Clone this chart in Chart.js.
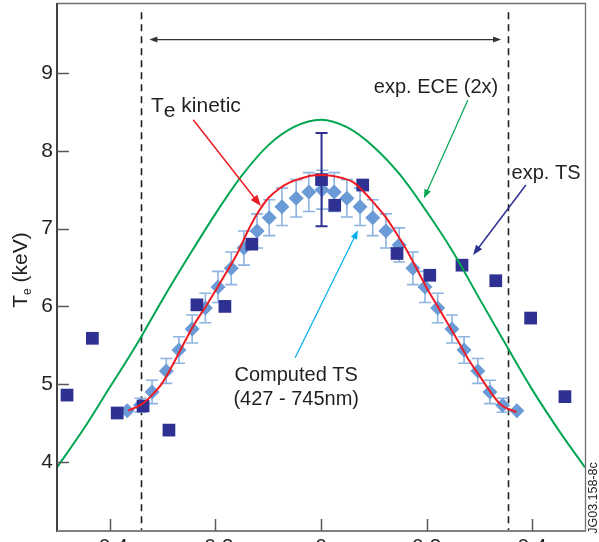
<!DOCTYPE html>
<html>
<head>
<meta charset="utf-8">
<script src="https://cdn.jsdelivr.net/npm/chart.js@4.4.1/dist/chart.umd.min.js"></script>
<style>
  html, body { margin: 0; padding: 0; background: #fff; overflow: hidden; }
  #wrap { width: 599px; height: 560px; position: relative; }
</style>
</head>
<body>
<div id="wrap"><canvas id="chart-te"></canvas></div>
<script>
// radius (normalised) on x, Te in keV on y
var xTicks = [-0.4, -0.2, 0, 0.2, 0.4];
var yTicks = [4, 5, 6, 7, 8, 9];

// computed TS (427 - 745nm), diamonds with error bars
var compX = [-0.367, -0.342, -0.320, -0.293, -0.269, -0.244, -0.219, -0.195, -0.170, -0.146, -0.121,
  -0.098, -0.074, -0.047, -0.023, 0.002, 0.025, 0.049, 0.074, 0.098, 0.123, 0.148, 0.174, 0.197,
  0.221, 0.248, 0.271, 0.297, 0.320, 0.344, 0.371];
var compTe = [4.66, 4.73, 4.90, 5.17, 5.44, 5.71, 5.98, 6.25, 6.49, 6.75, 6.97, 7.14, 7.28, 7.39, 7.47,
  7.50, 7.47, 7.39, 7.28, 7.14, 6.97, 6.79, 6.49, 6.25, 5.98, 5.71, 5.44, 5.17, 4.90, 4.73, 4.66];
var compErr = [0, 0.09, 0.15, 0.16, 0.17, 0.18, 0.19, 0.20, 0.21, 0.22, 0.22, 0.23, 0.24, 0.24, 0.25,
  0.25, 0.25, 0.24, 0.24, 0.23, 0.22, 0.22, 0.21, 0.20, 0.19, 0.18, 0.17, 0.16, 0.15, 0.09, 0];

// exp. TS, squares
var tsX = [-0.481, -0.433, -0.386, -0.337, -0.288, -0.235, -0.182, -0.131, 0.001, 0.026, 0.079,
  0.144, 0.206, 0.267, 0.331, 0.397, 0.462];
var tsTe = [4.86, 5.59, 4.63, 4.72, 4.41, 6.02, 6.00, 6.80, 7.63, 7.30, 7.56, 6.68, 6.40, 6.53, 6.33, 5.85, 4.84];
var tsErr = [0, 0, 0, 0, 0, 0, 0, 0, 0.60, 0, 0, 0, 0, 0, 0, 0, 0];

// exp. ECE (2x), green curve
var eceX = [-0.5, -0.45, -0.4, -0.35, -0.3, -0.25, -0.2, -0.15, -0.1, -0.05, 0, 0.05, 0.1, 0.15, 0.2,
  0.25, 0.3, 0.35, 0.4, 0.45, 0.5];
var eceTe = [3.93, 4.42, 4.96, 5.50, 6.09, 6.65, 7.19, 7.68, 8.07, 8.31, 8.40, 8.30, 8.05, 7.69, 7.22,
  6.70, 6.10, 5.51, 4.93, 4.41, 3.93];

// Te kinetic, red curve
var kinX = [-0.365, -0.34, -0.32, -0.3, -0.28, -0.26, -0.24, -0.22, -0.2, -0.18, -0.16, -0.14, -0.12,
  -0.1, -0.08, -0.06, -0.04, -0.02, 0, 0.02, 0.04, 0.06, 0.08, 0.1, 0.12, 0.14, 0.16, 0.18, 0.2, 0.22,
  0.24, 0.26, 0.28, 0.3, 0.32, 0.34, 0.37];
var kinTe = [4.66, 4.74, 4.86, 5.02, 5.26, 5.52, 5.77, 5.98, 6.20, 6.43, 6.66, 6.95, 7.20, 7.39, 7.51,
  7.59, 7.64, 7.68, 7.69, 7.68, 7.65, 7.60, 7.48, 7.33, 7.17, 6.97, 6.75, 6.50, 6.24, 6.01, 5.78, 5.55,
  5.31, 5.11, 4.91, 4.74, 4.64];

function pairs(xs, ys) {
  return xs.map(function(x, i) { return { x: x, y: ys[i] }; });
}

var font = "'Liberation Sans', Arial, sans-serif";
var ink = '#231f20';
var navy = '#2e3192';

// annotation layout in data units (radius, keV)
var notes = {
  bounds: [-0.341, 0.355],
  boundsTop: 9.78,
  span: { y: 9.43, from: -0.325, to: 0.341 },
  arrows: [
    { from: [-0.242, 8.40], to: [-0.114, 7.29], color: '#ed1c24', width: 1.5, head: 11 },
    { from: [0.278, 8.65], to: [0.195, 7.39], color: '#00a651', width: 1.2, head: 9 },
    { from: [0.388, 7.56], to: [0.288, 6.66], color: navy, width: 1.5, head: 10 },
    { from: [-0.049, 5.34], to: [0.070, 6.98], color: '#00aeef', width: 1.2, head: 9 }
  ]
};

function drawArrow(ctx, x1, y1, x2, y2, color, width, head) {
  var a = Math.atan2(y2 - y1, x2 - x1);
  var c = Math.cos(a), s = Math.sin(a);
  ctx.save();
  ctx.strokeStyle = color; ctx.fillStyle = color; ctx.lineWidth = width;
  ctx.beginPath(); ctx.moveTo(x1, y1); ctx.lineTo(x2 - c * head * 0.7, y2 - s * head * 0.7); ctx.stroke();
  ctx.beginPath();
  ctx.moveTo(x2, y2);
  ctx.lineTo(x2 - head * c + head * 0.38 * s, y2 - head * s - head * 0.38 * c);
  ctx.lineTo(x2 - head * c - head * 0.38 * s, y2 - head * s + head * 0.38 * c);
  ctx.closePath(); ctx.fill();
  ctx.restore();
}

var figurePlugin = {
  id: 'figure',
  beforeDatasetsDraw: function(chart) {
    var ctx = chart.ctx, sx = chart.scales.x, sy = chart.scales.y, area = chart.chartArea;
    ctx.save();
    ctx.strokeStyle = '#231f20'; ctx.lineWidth = 1.6; ctx.setLineDash([7, 5]);
    notes.bounds.forEach(function(b) {
      var x = Math.round(sx.getPixelForValue(b)) + 0.5;
      ctx.beginPath(); ctx.moveTo(x, sy.getPixelForValue(notes.boundsTop)); ctx.lineTo(x, area.bottom); ctx.stroke();
    });
    ctx.restore();
  },
  beforeDatasetDraw: function(chart, args) {
    var ds = chart.data.datasets[args.index];
    if (!ds.errors) return;
    var ctx = chart.ctx, sy = chart.scales.y;
    ctx.save();
    ctx.strokeStyle = ds.errorColor; ctx.lineWidth = ds.errorWidth;
    args.meta.data.forEach(function(pt, i) {
      var e = ds.errors[i];
      if (!e) return;
      var top = sy.getPixelForValue(ds.data[i].y + e), bot = sy.getPixelForValue(ds.data[i].y - e);
      var w = ds.capHalf;
      ctx.beginPath();
      ctx.moveTo(pt.x, top); ctx.lineTo(pt.x, bot);
      ctx.moveTo(pt.x - w, top); ctx.lineTo(pt.x + w, top);
      ctx.moveTo(pt.x - w, bot); ctx.lineTo(pt.x + w, bot);
      ctx.stroke();
    });
    ctx.restore();
  },
  afterDatasetsDraw: function(chart) {
    var ctx = chart.ctx, sx = chart.scales.x, sy = chart.scales.y;
    function P(x, y) { return [sx.getPixelForValue(x), sy.getPixelForValue(y)]; }

    // double arrow across the bounded region
    var a = P(notes.span.from, notes.span.y), b = P(notes.span.to, notes.span.y);
    var mid = (a[0] + b[0]) / 2;
    drawArrow(ctx, mid, a[1], a[0], a[1], '#333', 1.2, 8);
    drawArrow(ctx, mid, b[1], b[0], b[1], '#333', 1.2, 8);

    notes.arrows.forEach(function(n) {
      var p = P(n.from[0], n.from[1]), q = P(n.to[0], n.to[1]);
      drawArrow(ctx, p[0], p[1], q[0], q[1], n.color, n.width, n.head);
    });

    ctx.save();
    ctx.fillStyle = ink;
    ctx.textBaseline = 'alphabetic';
    // T_e kinetic
    var t = P(-0.322, 8.503);
    ctx.font = '21px ' + font; ctx.textAlign = 'left';
    ctx.fillText('T', t[0], t[1]);
    var wT = ctx.measureText('T').width;
    ctx.fillText('e', t[0] + wT, t[1] + 5);
    var wE = ctx.measureText('e').width;
    ctx.fillText(' kinetic', t[0] + wT + wE, t[1]);

    ctx.font = '20px ' + font;
    var e = P(0.100, 8.749); ctx.fillText('exp. ECE (2x)', e[0], e[1]);
    var ts = P(0.361, 7.638); ctx.fillText('exp. TS', ts[0], ts[1]);
    ctx.textAlign = 'center';
    var c1 = P(-0.047, 5.041); ctx.fillText('Computed TS', c1[0], c1[1]);
    var c2 = P(-0.047, 4.733); ctx.fillText('(427 - 745nm)', c2[0], c2[1]);
    ctx.restore();
  },
  afterDraw: function(chart) {
    var ctx = chart.ctx, area = chart.chartArea, sx = chart.scales.x, sy = chart.scales.y;
    ctx.save();
    // frame
    ctx.strokeStyle = '#6d6e71'; ctx.lineWidth = 1.3;
    ctx.beginPath();
    ctx.moveTo(area.left, area.top + 0.5); ctx.lineTo(area.right + 0.5, area.top + 0.5); ctx.lineTo(area.right + 0.5, area.bottom);
    ctx.stroke();
    ctx.strokeStyle = '#414042'; ctx.lineWidth = 2;
    ctx.beginPath();
    ctx.moveTo(area.left, area.top); ctx.lineTo(area.left, area.bottom + 1);
    ctx.stroke();
    ctx.strokeStyle = '#808285';
    ctx.beginPath();
    ctx.moveTo(area.left, area.bottom); ctx.lineTo(area.right + 1, area.bottom);
    ctx.stroke();
    // inward ticks
    ctx.strokeStyle = '#58595b'; ctx.lineWidth = 1.5;
    ctx.beginPath();
    yTicks.forEach(function(v) {
      var y = Math.round(sy.getPixelForValue(v)) + 0.5;
      ctx.moveTo(area.left, y); ctx.lineTo(area.left + 12, y);
    });
    xTicks.forEach(function(v) {
      var x = Math.round(sx.getPixelForValue(v)) + 0.5;
      ctx.moveTo(x, area.bottom); ctx.lineTo(x, area.bottom - 12);
    });
    ctx.stroke();

    // y title with subscript
    ctx.fillStyle = ink;
    ctx.translate(27, (area.top + area.bottom) / 2 + 3);
    ctx.rotate(-Math.PI / 2);
    ctx.textBaseline = 'alphabetic'; ctx.textAlign = 'left';
    ctx.font = '21px ' + font;
    var w1 = ctx.measureText('T').width, w3 = ctx.measureText(' (keV)').width;
    ctx.font = '12px ' + font;
    var w2 = ctx.measureText('e').width;
    var x0 = -(w1 + w2 + w3) / 2;
    ctx.font = '21px ' + font; ctx.fillText('T', x0, 0);
    ctx.font = '12px ' + font; ctx.fillText('e', x0 + w1, 4);
    ctx.font = '21px ' + font; ctx.fillText(' (keV)', x0 + w1 + w2, 0);
    ctx.restore();

    // figure id
    ctx.save();
    ctx.fillStyle = ink;
    ctx.translate(597, 498);
    ctx.rotate(-Math.PI / 2);
    ctx.font = '12.5px ' + font; ctx.textAlign = 'center'; ctx.textBaseline = 'alphabetic';
    ctx.fillText('JG03.158-8c', 0, 0);
    ctx.restore();
  }
};

new Chart(document.getElementById('chart-te').getContext('2d'), {
  type: 'scatter',
  data: {
    datasets: [
      { label: 'Te kinetic', data: pairs(kinX, kinTe), showLine: true, borderColor: '#ed1c24', borderWidth: 2,
        pointRadius: 0, cubicInterpolationMode: 'monotone', order: 0 },
      { label: 'exp. ECE (2x)', data: pairs(eceX, eceTe), showLine: true, borderColor: '#00a651', borderWidth: 2,
        pointRadius: 0, cubicInterpolationMode: 'monotone', order: 1 },
      { label: 'exp. TS', data: pairs(tsX, tsTe), pointStyle: 'rect', pointRadius: 9, borderWidth: 0,
        backgroundColor: navy, errors: tsErr, errorColor: navy, errorWidth: 2, capHalf: 6, order: 2 },
      { label: 'Computed TS', data: pairs(compX, compTe), pointStyle: 'rectRot', pointRadius: 7.5, borderWidth: 0,
        backgroundColor: '#6b9bd6', errors: compErr, errorColor: '#8db4e2', errorWidth: 1.6, capHalf: 6, order: 3 }
    ]
  },
  options: {
    responsive: true, maintainAspectRatio: false, animation: false, events: [],
    layout: { autoPadding: false, padding: { top: 3, right: 14, left: 0, bottom: 0 } },
    plugins: { legend: { display: false }, tooltip: { enabled: false } },
    scales: {
      x: {
        type: 'linear', min: -0.5, max: 0.5,
        afterBuildTicks: function(s) { s.ticks = xTicks.map(function(v) { return { value: v }; }); },
        afterFit: function(s) { s.height = 29; s.paddingLeft = 0; s.paddingRight = 0; },
        grid: { display: false, drawTicks: false }, border: { display: false },
        ticks: { padding: 4, color: ink, font: { family: font, size: 21 }, maxRotation: 0,
          callback: function(v) { return String(v); } }
      },
      y: {
        min: 3.113, max: 9.9,
        afterBuildTicks: function(s) { s.ticks = yTicks.map(function(v) { return { value: v }; }); },
        afterFit: function(s) { s.width = 57; s.paddingTop = 0; s.paddingBottom = 0; },
        grid: { display: false, drawTicks: false }, border: { display: false },
        ticks: { padding: 4, color: ink, font: { family: font, size: 21 }, callback: function(v) { return String(v); } }
      }
    }
  },
  plugins: [figurePlugin]
});
</script>
</body>
</html>
